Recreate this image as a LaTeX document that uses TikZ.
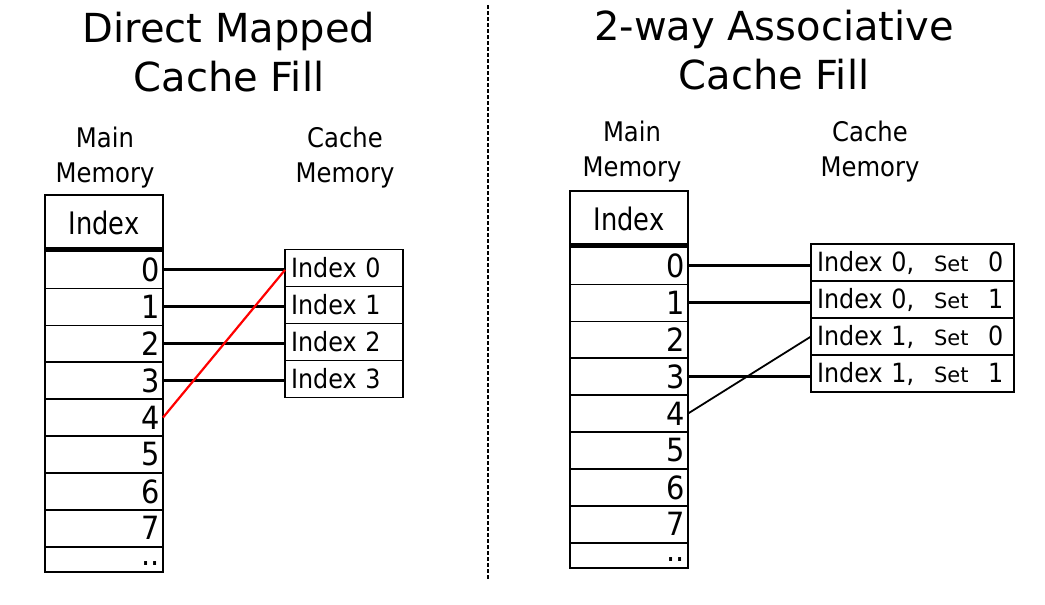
\documentclass[tikz,border=0pt]{standalone}
\usepackage{fontspec}
\setmainfont{DejaVu Sans}
\newfontfamily\condfont[FakeStretch=0.9]{DejaVu Sans}
\newfontfamily\headfont[FakeStretch=0.83]{DejaVu Sans}
\newfontfamily\setfam{DejaVu Sans}
\usetikzlibrary{positioning}

\newcommand{\setfont}{\setfam\fontsize{21}{21}\selectfont}
\newcommand{\wayrow}[2]{\makebox[117pt][l]{Index #1,}\makebox[54pt][l]{\setfont Set}#2}

\tikzset{
  headline/.style={align=center, font=\fontsize{40}{49}\selectfont},
  memlabel/.style={align=center, font=\condfont\fontsize{27}{35}\selectfont},
  memhead/.style={draw, line width=1.6pt, outer sep=0pt, minimum width=118pt,
    minimum height=56.5pt, inner sep=0pt, anchor=north west,
    font=\headfont\fontsize{31}{31}\selectfont},
  memrow/.style={draw, line width=1.6pt, outer sep=0pt, minimum width=118pt,
    minimum height=36.9pt, text width=112pt, inner xsep=3pt, inner ysep=0pt,
    align=right, font=\condfont\fontsize{32}{32}\selectfont},
  dotsrow/.style={memrow, minimum height=25.3pt, text height=12pt, text depth=0pt},
  cacherow/.style={draw, line width=1.6pt, outer sep=0pt, minimum width=118pt,
    minimum height=37pt, text width=106pt, inner xsep=6pt, inner ysep=0pt,
    align=left, font=\condfont\fontsize{26.5}{26.5}\selectfont},
  setrow/.style={cacherow, minimum width=203pt, text width=191pt},
  link/.style={line width=3pt},
}

\begin{document}
\begin{tikzpicture}[x=1pt, y=-1pt]
\useasboundingbox (0,0) rectangle (1045,605);

% direct mapped
\node[headline] at (229,52) (dmtitle) {Direct Mapped\\Cache Fill};
\node[memlabel] at (105,157.5) (dmmain) {Main\\Memory};
\node[memlabel] at (345,157.5) (dmcache) {Cache\\Memory};

\node[memhead] at (45,195) (dmhead) {Index};
\node[memrow, below=0pt of dmhead] (dm0) {0};
\node[memrow, below=0pt of dm0] (dm1) {1};
\node[memrow, below=0pt of dm1] (dm2) {2};
\node[memrow, below=0pt of dm2] (dm3) {3};
\node[memrow, below=0pt of dm3] (dm4) {4};
\node[memrow, below=0pt of dm4] (dm5) {5};
\node[memrow, below=0pt of dm5] (dm6) {6};
\node[memrow, below=0pt of dm6] (dm7) {7};
\node[dotsrow, below=0pt of dm7] (dmdots) {..};
\draw[line width=4.5pt] ([yshift=2.25pt]dmhead.south west) -- ([yshift=2.25pt]dmhead.south east);

\node[cacherow, anchor=north west] at (285,249.5) (dc0) {Index 0};
\node[cacherow, below=0pt of dc0] (dc1) {Index 1};
\node[cacherow, below=0pt of dc1] (dc2) {Index 2};
\node[cacherow, below=0pt of dc2] (dc3) {Index 3};

\draw[link] (dm0.east) -- (dm0.east -| dc0.west);
\draw[link] (dm1.east) -- (dm1.east -| dc1.west);
\draw[link] (dm2.east) -- (dm2.east -| dc2.west);
\draw[link] (dm3.east) -- (dm3.east -| dc3.west);
\draw[red, line width=2.2pt] (dm4.east) -- (dm0.east -| dc0.west);

% divider
\coordinate (divtop) at (488,5);
\coordinate (divbottom) at (488,580);
\draw[line width=1.4pt, dash pattern=on 4pt off 2pt] (divtop) -- (divbottom);

% 2-way associative
\node[headline] at (774,50.5) (astitle) {2-way Associative\\Cache Fill};
\node[memlabel] at (632,151.5) (asmain) {Main\\Memory};
\node[memlabel] at (870,151.5) (ascache) {Cache\\Memory};

\node[memhead] at (570,191) (ashead) {Index};
\node[memrow, below=0pt of ashead] (as0) {0};
\node[memrow, below=0pt of as0] (as1) {1};
\node[memrow, below=0pt of as1] (as2) {2};
\node[memrow, below=0pt of as2] (as3) {3};
\node[memrow, below=0pt of as3] (as4) {4};
\node[memrow, below=0pt of as4] (as5) {5};
\node[memrow, below=0pt of as5] (as6) {6};
\node[memrow, below=0pt of as6] (as7) {7};
\node[dotsrow, below=0pt of as7] (asdots) {..};
\draw[line width=4.5pt] ([yshift=2.25pt]ashead.south west) -- ([yshift=2.25pt]ashead.south east);

\node[setrow, anchor=north west] at (811,244) (ac0) {\wayrow{0}{0}};
\node[setrow, below=0pt of ac0] (ac1) {\wayrow{0}{1}};
\node[setrow, below=0pt of ac1] (ac2) {\wayrow{1}{0}};
\node[setrow, below=0pt of ac2] (ac3) {\wayrow{1}{1}};

\draw[link] (as0.east) -- (as0.east -| ac0.west);
\draw[link] (as1.east) -- (as1.east -| ac1.west);
\draw[link] (as3.east) -- (as3.east -| ac3.west);
\draw[line width=1.8pt] (as4.east) -- (ac2.west);

\end{tikzpicture}
\end{document}
